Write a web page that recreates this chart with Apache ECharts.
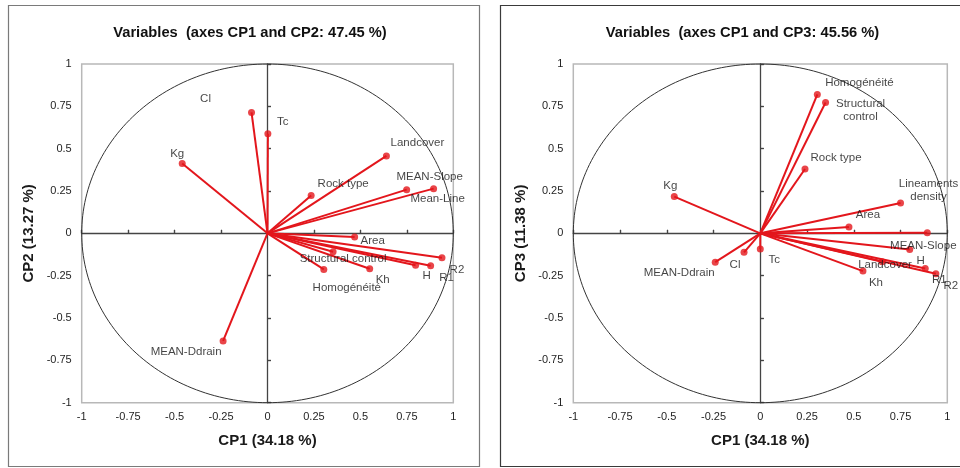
<!DOCTYPE html>
<html>
<head>
<meta charset="utf-8">
<script src="https://cdn.jsdelivr.net/npm/echarts@6/dist/echarts.min.js"></script>
<style>
  html, body { margin: 0; padding: 0; background: #ffffff; }
  #chart { width: 960px; height: 468px; }
</style>
</head>
<body>
<div id="chart"></div>
<script>
// Correlation loadings of the variables on CP1 / CP2
const namesA = ['Cl', 'Tc', 'Kg', 'Landcover', 'MEAN-Slope', 'Mean-Line', 'Rock type', 'Area',
  'Structural control', 'Homogénéité', 'Kh', 'H', 'R1', 'R2', 'MEAN-Ddrain'];
const cp1A = [-0.086, 0.002, -0.459, 0.640, 0.749, 0.894, 0.235, 0.469,
  0.353, 0.303, 0.550, 0.797, 0.878, 0.939, -0.239];
const cp2A = [0.714, 0.588, 0.412, 0.457, 0.258, 0.264, 0.223, -0.022,
  -0.109, -0.213, -0.209, -0.188, -0.191, -0.144, -0.635];

// Correlation loadings of the variables on CP1 / CP3
const namesB = ['Homogénéité', 'Structural\ncontrol', 'Rock type', 'Kg', 'Lineaments\ndensity', 'Area',
  'MEAN-Slope', 'H', 'Landcover', 'Kh', 'R1', 'R2', 'Tc', 'Cl', 'MEAN-Ddrain'];
const cp1B = [0.305, 0.349, 0.239, -0.460, 0.750, 0.474,
  0.893, 0.799, 0.651, 0.549, 0.882, 0.939, 0.000, -0.087, -0.241];
const cp3B = [0.820, 0.773, 0.380, 0.217, 0.179, 0.037,
  0.003, -0.095, -0.168, -0.223, -0.207, -0.239, -0.093, -0.112, -0.170];

// Axis tick labels (both axes run from -1 to 1 in steps of 0.25)
const tickLabels = ['-1', '-0.75', '-0.5', '-0.25', '0', '0.25', '0.5', '0.75', '1'];

const chartTitles = ['Variables  (axes CP1 and CP2: 47.45 %)', 'Variables  (axes CP1 and CP3: 45.56 %)'];
const xTitle = 'CP1 (34.18 %)';
const yTitles = ['CP2 (13.27 %)', 'CP3 (11.38 %)'];

// Pixel offsets of each variable's label from its arrow tip
const labelOffsetsA = [[-46, -14], [15, -12], [-5, -10], [31, -13], [23, -13], [4, 10], [32, -12], [18, 4],
  [10, 7], [23, 18], [13, 11], [11, 11], [16, 12], [15, 12], [-37, 11]];
const labelOffsetsB = [[42, -12], [35, 8], [31, -11], [-4, -11], [28, -13], [19, -12],
  [-4, 13], [11, 11], [3, 3], [13, 12], [14, 11], [15, 12], [14, 11], [-9, 13], [-36, 11]];

const RED = '#e3161c';
const FONT = "'Liberation Sans', Arial, sans-serif";

const grids = [
  { left: 81.7, top: 64, width: 371.6, height: 338.7 },
  { left: 573.3, top: 64, width: 374, height: 338.7 }
];

function tickFormatter(v) {
  const i = Math.round((v + 1) / 0.25);
  return tickLabels[i] !== undefined ? tickLabels[i] : '';
}

const baseAxis = { type: 'value', min: -1, max: 1, interval: 0.25, splitLine: { show: false } };
const zeroLine = { show: true, onZero: true, lineStyle: { color: '#444', width: 1.3 } };
const zeroTick = { show: true, length: 3.5, lineStyle: { color: '#444', width: 1.2 } };

const xAxes = [];
const yAxes = [];
grids.forEach((g, gi) => {
  // labelled axes on the frame
  xAxes.push(Object.assign({}, baseAxis, {
    gridIndex: gi, position: 'bottom',
    axisLine: { show: false, onZero: false }, axisTick: { show: false },
    axisLabel: { show: true, margin: 9, color: '#1f1f1f', fontSize: 11, fontFamily: FONT, formatter: tickFormatter },
    name: xTitle, nameLocation: 'middle', nameGap: 31,
    nameTextStyle: { fontSize: 15, fontWeight: 'bold', color: '#1a1a1a', fontFamily: FONT }
  }));
  // axis lines through the origin, ticks crossing both sides
  xAxes.push(Object.assign({}, baseAxis, {
    gridIndex: gi, position: 'top', axisLine: zeroLine, axisTick: zeroTick, axisLabel: { show: false }
  }));
  xAxes.push(Object.assign({}, baseAxis, {
    gridIndex: gi, position: 'top', axisLine: { show: false, onZero: true }, axisTick: zeroTick, axisLabel: { show: false }
  }));

  yAxes.push(Object.assign({}, baseAxis, {
    gridIndex: gi, position: 'left',
    axisLine: { show: false, onZero: false }, axisTick: { show: false },
    axisLabel: { show: true, margin: 10, color: '#1f1f1f', fontSize: 11, fontFamily: FONT, formatter: tickFormatter },
    name: yTitles[gi], nameLocation: 'middle', nameGap: 45,
    nameTextStyle: { fontSize: 15, fontWeight: 'bold', color: '#1a1a1a', fontFamily: FONT }
  }));
  yAxes.push(Object.assign({}, baseAxis, {
    gridIndex: gi, position: 'right', axisLine: zeroLine, axisTick: zeroTick, axisLabel: { show: false }
  }));
  yAxes.push(Object.assign({}, baseAxis, {
    gridIndex: gi, position: 'right', axisLine: { show: false, onZero: true }, axisTick: zeroTick, axisLabel: { show: false }
  }));
});

// unit correlation circle
function circleSeries(gi) {
  return {
    type: 'custom', xAxisIndex: gi * 3, yAxisIndex: gi * 3, data: [[0, 0]], silent: true, z: 1, clip: false,
    renderItem: function (params, api) {
      const pts = [];
      for (let k = 0; k <= 240; k++) {
        const t = (k / 240) * Math.PI * 2;
        pts.push(api.coord([Math.cos(t), Math.sin(t)]));
      }
      return { type: 'polyline', shape: { points: pts }, style: { stroke: '#333', lineWidth: 1, fill: null } };
    }
  };
}

// arrows from the origin to each variable
function vectorSeries(gi, xs, ys) {
  return {
    type: 'custom', xAxisIndex: gi * 3, yAxisIndex: gi * 3, silent: true, z: 3,
    data: xs.map((x, i) => [x, ys[i]]),
    renderItem: function (params, api) {
      const o = api.coord([0, 0]);
      const p = api.coord([api.value(0), api.value(1)]);
      return { type: 'line', shape: { x1: o[0], y1: o[1], x2: p[0], y2: p[1] }, style: { stroke: RED, lineWidth: 2 } };
    }
  };
}

// arrow tips with variable names
function pointSeries(gi, names, xs, ys, offsets) {
  return {
    type: 'scatter', xAxisIndex: gi * 3, yAxisIndex: gi * 3, z: 4,
    symbol: 'circle', symbolSize: 7, itemStyle: { color: RED },
    label: {
      show: true, position: 'inside', formatter: '{b}', color: '#141414', fontSize: 11.5, fontFamily: FONT,
      lineHeight: 13, align: 'center', textBorderWidth: 0
    },
    data: names.map((n, i) => ({ name: n, value: [xs[i], ys[i]], label: { offset: offsets[i] } }))
  };
}

const chart = echarts.init(document.getElementById('chart'), null, { renderer: 'canvas' });
chart.setOption({
  animation: false,
  backgroundColor: '#ffffff',
  grid: grids.map(g => Object.assign({
    show: true, borderColor: '#b8b8b8', borderWidth: 1.5, backgroundColor: 'transparent',
    containLabel: false, outerBoundsMode: 'none'
  }, g)),
  xAxis: xAxes,
  yAxis: yAxes,
  graphic: [
    { type: 'rect', shape: { x: 8.5, y: 5.5, width: 471, height: 461 }, style: { fill: null, stroke: '#7a7a7a', lineWidth: 1.2 }, silent: true },
    { type: 'rect', shape: { x: 500.5, y: 5.5, width: 470, height: 461 }, style: { fill: null, stroke: '#3a3a3a', lineWidth: 1.2 }, silent: true },
    { type: 'text', x: 250, y: 33, style: { text: chartTitles[0], font: "bold 14.7px " + FONT, fill: '#111', align: 'center', verticalAlign: 'middle' }, silent: true },
    { type: 'text', x: 742.5, y: 33, style: { text: chartTitles[1], font: "bold 14.7px " + FONT, fill: '#111', align: 'center', verticalAlign: 'middle' }, silent: true }
  ],
  series: [
    circleSeries(0), vectorSeries(0, cp1A, cp2A), pointSeries(0, namesA, cp1A, cp2A, labelOffsetsA),
    circleSeries(1), vectorSeries(1, cp1B, cp3B), pointSeries(1, namesB, cp1B, cp3B, labelOffsetsB)
  ]
});
</script>
</body>
</html>
